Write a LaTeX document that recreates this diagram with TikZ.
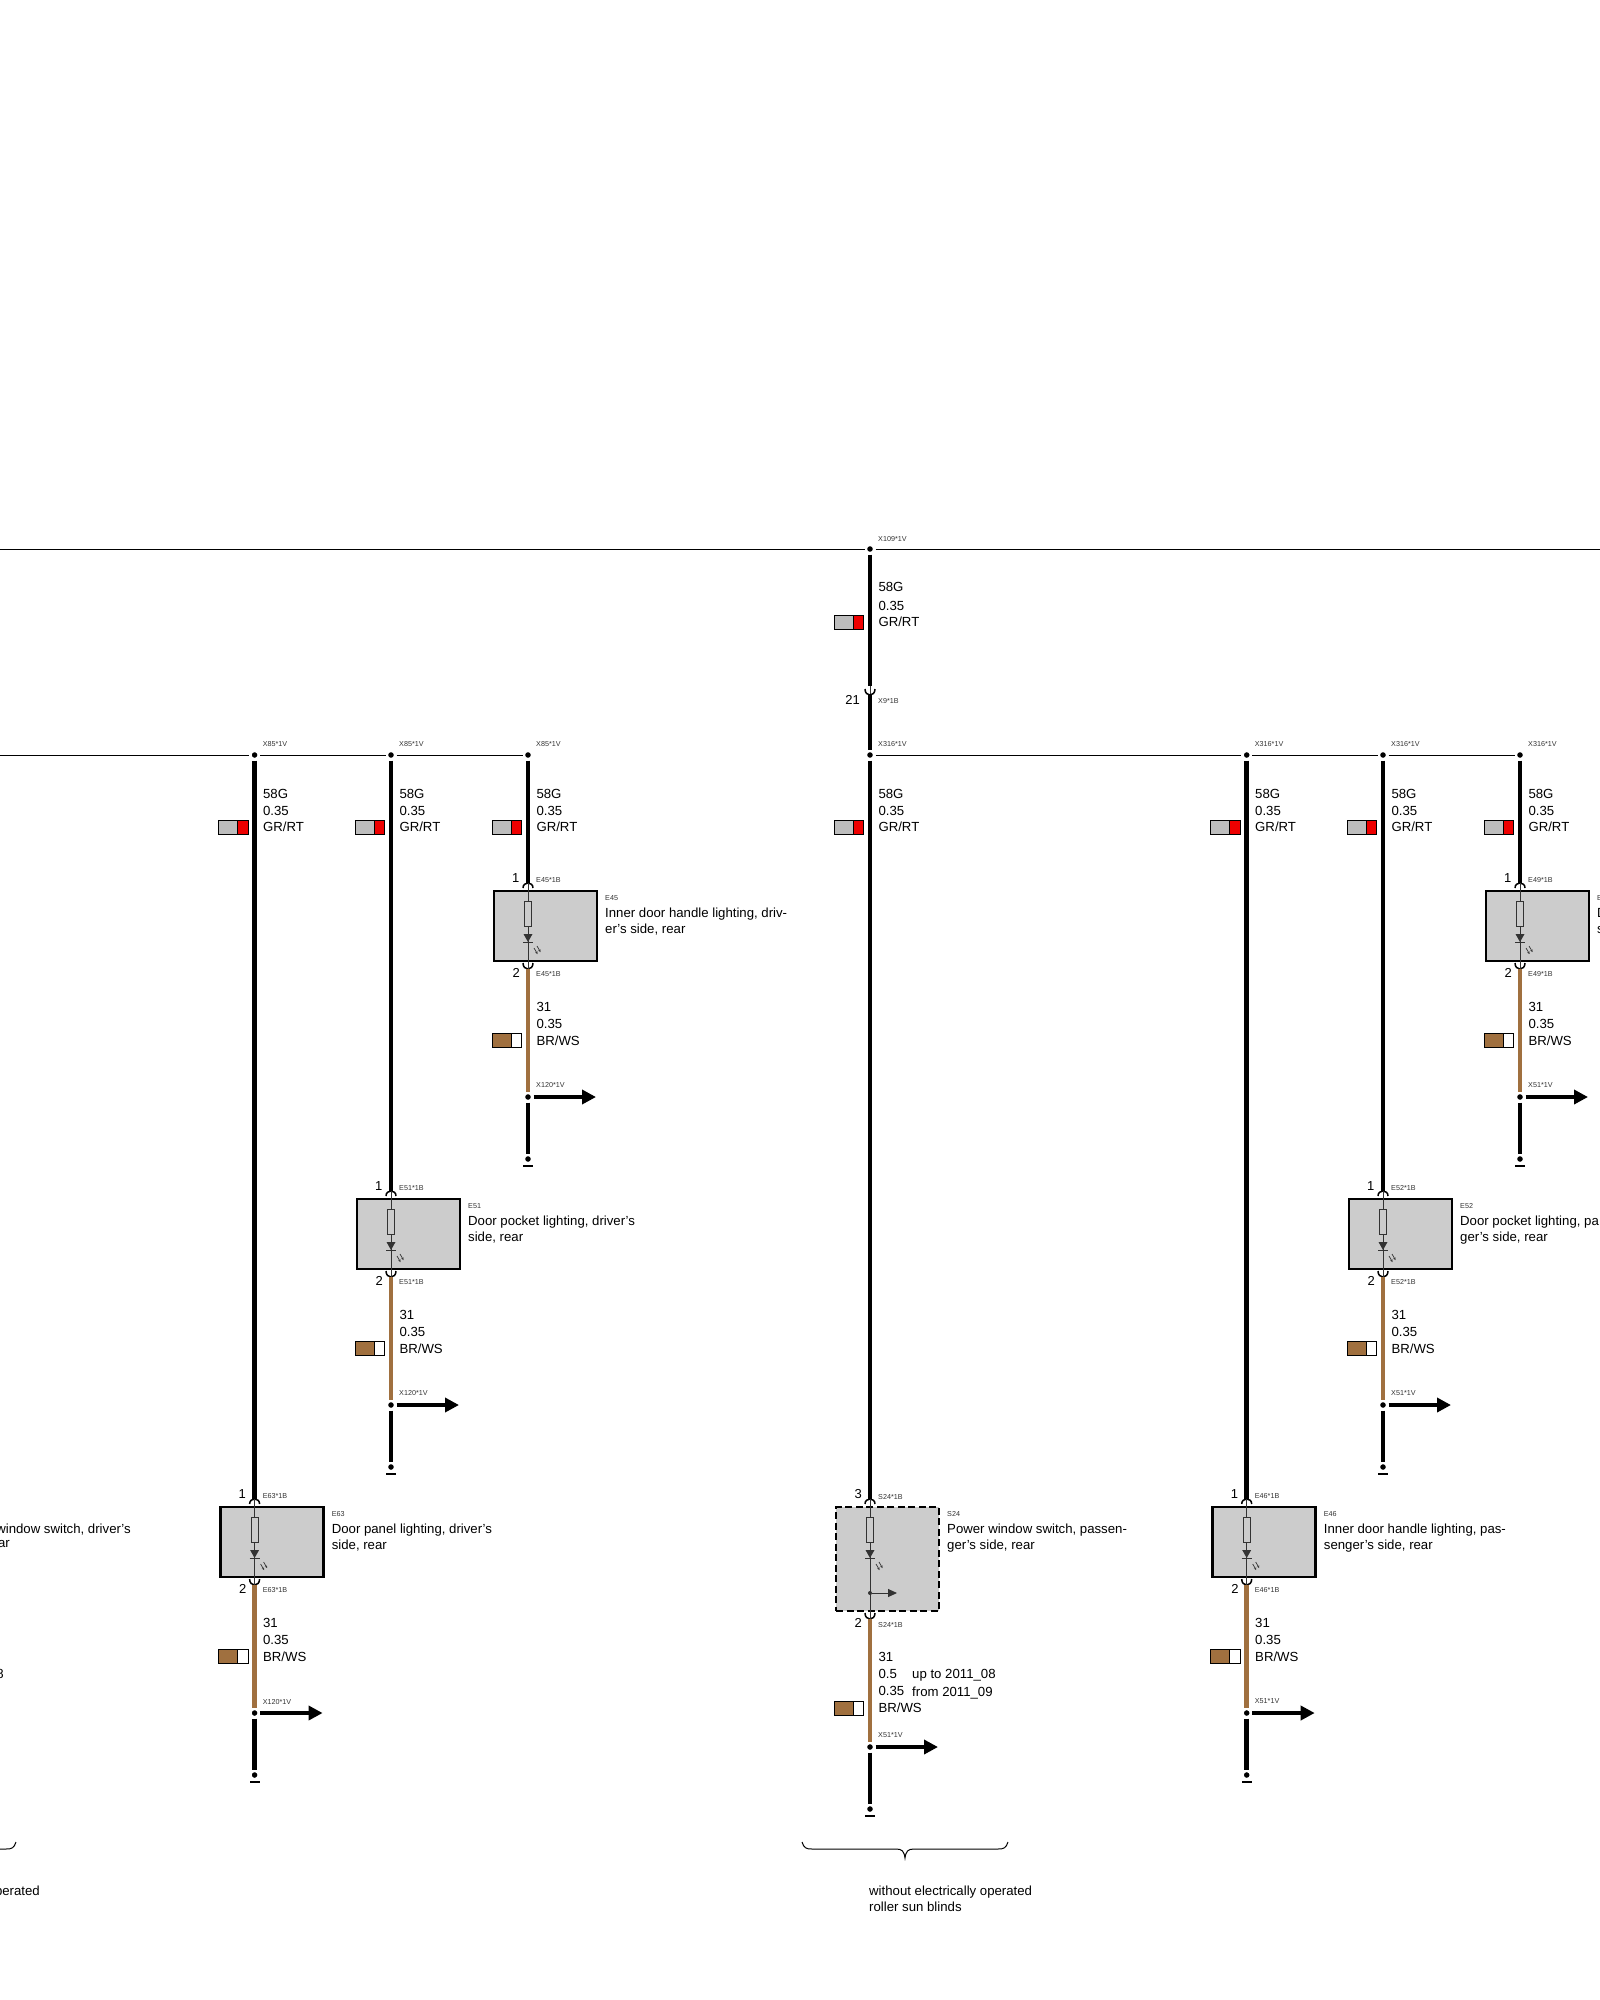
\documentclass[tikz,border=0pt]{standalone}
\usepackage{fontspec}
\setmainfont{Liberation Sans}
\usetikzlibrary{arrows.meta}
\definecolor{wirebrown}{HTML}{A0703F}
\definecolor{flaggray}{HTML}{BDBDBD}
\definecolor{flagred}{HTML}{EE0000}
\definecolor{boxgray}{HTML}{CCCCCC}
\definecolor{symbolgray}{HTML}{333333}
\tikzset{
    bus/.style={line width=1pt},
    wire/.style={line width=4.8pt},
    brownwire/.style={wire, wirebrown},
    joint/.style={circle, fill=black, draw=white, line width=2.5pt, minimum size=8.5pt, inner sep=0pt},
    earthbar/.style={fill=black, minimum width=10pt, minimum height=2.5pt, inner sep=0pt},
    pinarc/.style={line width=1.5pt},
    part/.style={draw=black, fill=boxgray, line width=2.5pt, anchor=north west, inner sep=0pt, outer sep=0pt, minimum width=103pt},
    symbol/.style={symbolgray, line width=1pt},
    flag/.style={draw=black, line width=1pt},
    wiretext/.style={font=\fontsize{13.2}{16.6}\selectfont, align=left, anchor=north west, inner sep=0pt},
    parttext/.style={wiretext, font=\fontsize{13.2}{16}\selectfont},
    pintext/.style={font=\fontsize{13}{16}\selectfont, anchor=east, inner sep=0pt},
    tinytext/.style={font=\fontsize{7.2}{9}\selectfont, text=black!80, anchor=west, inner sep=0pt},
}
\newcommand{\wireflag}[4]{
    \filldraw[flag, fill=#3] (#1-36,#2-7) rectangle (#1-17,#2+7);
    \filldraw[flag, fill=#4] (#1-17,#2-7) rectangle (#1-6.5,#2+7);
}
\newcommand{\lampsymbol}[3]{
    \draw[symbol] (#1-in) -- (#1-out);
    \filldraw[symbol, fill=boxgray] (#2-3.5,#3+10) rectangle (#2+3.5,#3+35);
    \fill[symbolgray] (#2-4.5,#3+43) -- (#2+4.5,#3+43) -- (#2,#3+51) -- cycle;
    \draw[symbol] (#2-5,#3+51) -- (#2+5,#3+51);
    \draw[symbol, line width=0.7pt, -{Stealth[length=2.5pt,width=2.5pt]}] (#2+6,#3+57) -- (#2+9.5,#3+63);
    \draw[symbol, line width=0.7pt, -{Stealth[length=2.5pt,width=2.5pt]}] (#2+9,#3+55) -- (#2+12.5,#3+61);
}
\newcommand{\pinpair}[4]{
    \coordinate (#1-in) at (#2,#3-8);
    \coordinate (#1-out) at (#2,#4+8);
    \draw[pinarc] (#2-5,#3-3) .. controls +(0,-6.7) and +(0,-6.7) .. (#2+5,#3-3);
    \draw[pinarc] (#2-5,#4+2) .. controls +(0,8) and +(0,8) .. (#2+5,#4+2);
}
\newcommand{\groundend}[4]{
    \node[joint] (#1-split) at (#2,#3+136) {};
    \node[joint] (#1-end) at (#2,#3+198) {};
    \node[earthbar] (#1-bar) at (#2,#3+205) {};
    \coordinate (#1-tip) at (#2+68,#3+136);
    \draw[brownwire] (#1-out) -- (#1-split);
    \draw[wire] (#1-split) -- (#1-end);
    \draw[wire, -{Triangle[length=14pt,width=14pt]}] (#1-split) -- (#1-tip);
    \node[tinytext] (#1-gndtag) at (#2+8,#3+124.5) {#4*1V};
}

\begin{document}
\begin{tikzpicture}[x=1pt, y=-1pt]
    \useasboundingbox (0,0) rectangle (1600,2000);
    \clip (0,0) rectangle (1600,2000);

    \foreach \col/\ybox/\comp/\feed/\gnd/\lineA/\lineB in {
        528/891/E45/X85/X120/{Inner door handle lighting, driv-}/{er's side, rear},
        391/1199/E51/X85/X120/{Door pocket lighting, driver's}/{side, rear},
        254.6/1507/E63/X85/X120/{Door panel lighting, driver's}/{side, rear},
        1246.7/1507/E46/X316/X51/{Inner door handle lighting, pas-}/{senger's side, rear},
        1383/1199/E52/X316/X51/{Door pocket lighting, pa}/{ger's side, rear},
        1520/891/E49/X316/X51/{D}/{s}%
    } {
        \pgfmathsetmacro{\ybot}{\ybox+70}
        \node[joint] (\comp-feed) at (\col,755) {};
        \node[part, minimum height=70pt] (\comp-box) at (\col-34,\ybox) {};
        \pinpair{\comp}{\col}{\ybox}{\ybot}
        \draw[wire] (\comp-feed) -- (\comp-in);
        \lampsymbol{\comp}{\col}{\ybox}
        \groundend{\comp}{\col}{\ybot}{\gnd}
        \node[tinytext] (\comp-feedtag) at (\col+8,744) {\feed*1V};
        \node[wiretext] (\comp-feedtext) at (\col+8.3,789.3) {58G\\0.35\\GR/RT};
        \wireflag{\col}{827}{flaggray}{flagred}
        \node[pintext] (\comp-pinA) at (\col-8.5,\ybox-12.5) {1};
        \node[tinytext] (\comp-tagA) at (\col+8,\ybox-10.5) {\comp*1B};
        \node[pintext] (\comp-pinB) at (\col-8,\ybot+11.5) {2};
        \node[tinytext] (\comp-tagB) at (\col+8,\ybot+13) {\comp*1B};
        \node[tinytext] (\comp-name) at (\col+77,\ybox+7) {\comp};
        \node[parttext] (\comp-text) at (\col+77,\ybox+17) {\lineA\\\lineB};
        \node[wiretext] (\comp-gndtext) at (\col+8.3,\ybot+41.5) {31\\0.35\\BR/WS};
        \wireflag{\col}{\ybot+79}{wirebrown}{white}
    }

    \node[joint] (S24-feed) at (870,755) {};
    \node[part, dash pattern=on 7pt off 3.5pt, minimum height=104pt] (S24-box) at (836,1507) {};
    \pinpair{S24}{870}{1507}{1611}
    \draw[wire] (S24-feed) -- (S24-in);
    \lampsymbol{S24}{870}{1507}
    \node[circle, fill=symbolgray, minimum size=4pt, inner sep=0pt] (S24-branch) at (870,1593) {};
    \coordinate (S24-branchtip) at (897,1593);
    \draw[symbol, -{Triangle[length=9pt,width=8pt]}] (S24-branch) -- (S24-branchtip);
    \groundend{S24}{870}{1611}{X51}
    \node[tinytext] (S24-feedtag) at (878,744) {X316*1V};
    \node[wiretext] (S24-feedtext) at (878.3,789.3) {58G\\0.35\\GR/RT};
    \wireflag{870}{827}{flaggray}{flagred}
    \node[pintext] (S24-pinA) at (862,1494) {3};
    \node[tinytext] (S24-tagA) at (878,1497.5) {S24*1B};
    \node[pintext] (S24-pinB) at (862,1623) {2};
    \node[tinytext] (S24-tagB) at (878,1625) {S24*1B};
    \node[tinytext] (S24-name) at (947,1514) {S24};
    \node[parttext] (S24-text) at (947,1524) {Power window switch, passen-\\ger's side, rear};
    \node[wiretext] (S24-gndtext) at (878.3,1652.3) {31\\0.5\\[0.8pt]0.35\\[0.3pt]BR/WS};
    \node[wiretext] (S24-datetext) at (912,1669.3) {up to 2011\_08\\[0.8pt]from 2011\_09};
    \wireflag{870}{1708.5}{wirebrown}{white}

    \node[joint] (X109-dot) at (870,549) {};
    \coordinate (X109-west) at (0,549);
    \coordinate (X109-east) at (1600,549);
    \draw[bus] (X109-west) -- (X109-dot);
    \draw[bus] (X109-dot) -- (X109-east);
    \coordinate (X9-in) at (870,686);
    \coordinate (X9-out) at (870,695);
    \draw[wire] (X109-dot) -- (X9-in);
    \draw[symbol] (X9-in) -- (X9-out);
    \draw[pinarc] (865,689) .. controls +(0,8) and +(0,8) .. (875,689);
    \draw[wire] (X9-out) -- (S24-feed);
    \node[tinytext] (X109-tag) at (878,539) {X109*1V};
    \node[tinytext] (X9-tag) at (878,701.5) {X9*1B};
    \node[pintext] (X9-pin) at (860,700) {21};
    \node[wiretext] (X109-text) at (878.3,582.3) {58G\\[1.8pt]0.35\\GR/RT};
    \wireflag{870}{622}{flaggray}{flagred}

    \coordinate (bus-west) at (0,755);
    \draw[bus] (bus-west) -- (E63-feed);
    \draw[bus] (E63-feed) -- (E51-feed);
    \draw[bus] (E51-feed) -- (E45-feed);
    \draw[bus] (S24-feed) -- (E46-feed);
    \draw[bus] (E46-feed) -- (E52-feed);
    \draw[bus] (E52-feed) -- (E49-feed);

    \draw[line width=1pt] (802,1842) .. controls (804,1848) and (806,1849) .. (812,1849) -- (896,1849)
        .. controls (902,1849) and (904,1851) .. (905,1858) .. controls (906,1851) and (908,1849) .. (914,1849)
        -- (998,1849) .. controls (1004,1849) and (1006,1848) .. (1008,1842);
    \draw[line width=1pt] (0,1849) -- (6,1849) .. controls (12,1849) and (14,1848) .. (16,1842);
    \node[parttext] (blinds-text) at (869,1885.8) {without electrically operated\\roller sun blinds};

    \node[parttext, anchor=north east] (left-textA) at (131,1524) {window switch, driver's};
    \node[parttext, anchor=north east] (left-textB) at (10,1540) {ar};
    \node[wiretext, anchor=north east] (left-dateA) at (4,1669.3) {8};
    \node[wiretext, anchor=north east] (left-dateB) at (1,1687) {9};
    \node[parttext, anchor=north east] (left-blinds) at (40,1885.8) {perated};
\end{tikzpicture}
\end{document}
